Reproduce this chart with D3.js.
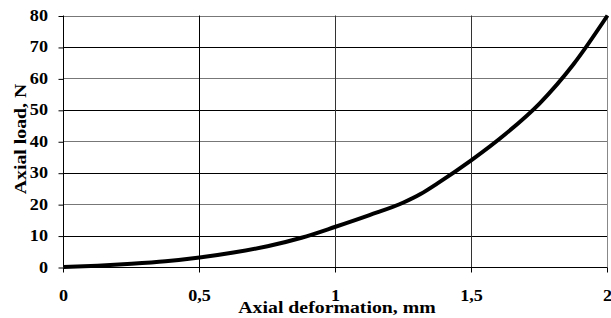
<!DOCTYPE html>
<html lang="en">
	<head>
		<meta charset="utf-8">
		<title>Axial load vs deformation</title>
		<script type="text/javascript" src="https://cdnjs.cloudflare.com/ajax/libs/d3/7.8.5/d3.min.js"></script>
		<style type="text/css">
			body { margin: 0; background: #fff; }
			text { font-family: "Liberation Serif", "Times New Roman", serif; font-weight: bold; fill: #000; }
		</style>
	</head>
	<body>
		<script type="text/javascript">

			//Size of the picture
			var w = 611;
			var h = 318;
			var margin = {left: 63.5, right: 3.5, top: 15.5, bottom: 51};

			//Data
			var deformation = [0, 0.125, 0.25, 0.375, 0.5, 0.625, 0.75, 0.875, 1.0, 1.125, 1.25, 1.3125, 1.375, 1.5, 1.625, 1.75, 1.875, 2.0];
			var load        = [0, 0.4,   1.0,  1.8,   3.0, 4.6,   6.6,  9.3,   12.8, 16.5, 20.5, 23.2,   26.6,  34.0, 42.3, 52.0, 64.5, 80.0];

			//Tick values and labels
			var xTicks = [0, 0.5, 1, 1.5, 2];
			var xTickLabels = ["0", "0,5", "1", "1,5", "2"];
			var yTicks = [0, 10, 20, 30, 40, 50, 60, 70, 80];

			var xTitle = "Axial deformation, mm";
			var yTitle = "Axial load, N";

			var fontSize = 16.5;
			var stretch = 1.1;       //tick labels in the reference are widened
			var titleStretch = 1.2;  //and the titles a bit more

			var svg = d3.select("body")
						.append("svg")
						.attr("width", w)
						.attr("height", h);

			var xScale = d3.scaleLinear()
						   .domain([0, 2])
						   .range([margin.left, w - margin.right]);

			var yScale = d3.scaleLinear()
						   .domain([0, 80])
						   .range([h - margin.bottom, margin.top]);

			//Horizontal grid lines
			svg.append("g")
			   .selectAll("line")
			   .data(yTicks.slice(1))
			   .enter()
			   .append("line")
			   .attr("x1", xScale(0))
			   .attr("x2", xScale(2))
			   .attr("y1", d => Math.round(yScale(d)) + 0.5)
			   .attr("y2", d => Math.round(yScale(d)) + 0.5)
			   .attr("stroke", (d, i) => i % 2 == 0 ? "#000" : "#777")
			   .attr("stroke-width", 1);

			//Vertical grid lines
			svg.append("g")
			   .selectAll("line")
			   .data(xTicks.slice(1))
			   .enter()
			   .append("line")
			   .attr("x1", d => Math.round(xScale(d)) - 0.5)
			   .attr("x2", d => Math.round(xScale(d)) - 0.5)
			   .attr("y1", yScale(0))
			   .attr("y2", yScale(80))
			   .attr("stroke", d => d == 2 ? "#888" : (d == 0.5 ? "#000" : "#333"))
			   .attr("stroke-width", 1);

			//Axes
			var xAxis = d3.axisBottom(xScale)
						  .tickValues(xTicks)
						  .tickSize(5)
						  .tickFormat("");

			var yAxis = d3.axisLeft(yScale)
						  .tickValues(yTicks)
						  .tickSize(5)
						  .tickFormat("");

			svg.append("g")
			   .attr("transform", `translate(0,${Math.round(yScale(0)) + 0.5})`)
			   .call(xAxis)
			   .call(g => g.select(".domain").attr("d", `M${xScale(0)},0H${xScale(2)}`))
			   .selectAll("line").attr("transform", "translate(-0.5,0)");

			svg.append("g")
			   .attr("transform", `translate(${xScale(0)},0)`)
			   .call(yAxis)
			   .call(g => g.select(".domain").attr("d", `M0,${yScale(0)}V${yScale(80)}`))
			   .selectAll(".tick line").attr("transform", "translate(0,0.5)");

			//Tick labels, drawn by hand so they can be widened
			svg.append("g")
			   .selectAll("text")
			   .data(yTicks)
			   .enter()
			   .append("text")
			   .attr("text-anchor", "end")
			   .attr("font-size", fontSize)
			   .attr("transform", d => `translate(48,${yScale(d) + 5.5}) scale(${stretch},1)`)
			   .text(d => d);

			svg.append("g")
			   .selectAll("text")
			   .data(xTicks)
			   .enter()
			   .append("text")
			   .attr("text-anchor", "middle")
			   .attr("font-size", fontSize)
			   .attr("transform", d => `translate(${xScale(d)},300.5) scale(${stretch},1)`)
			   .text((d, i) => xTickLabels[i]);

			//Axis titles
			svg.append("text")
			   .attr("text-anchor", "middle")
			   .attr("font-size", fontSize)
			   .attr("transform", `translate(337,312.5) scale(${titleStretch},1)`)
			   .text(xTitle);

			svg.append("text")
			   .attr("text-anchor", "middle")
			   .attr("font-size", fontSize)
			   .attr("transform", `translate(25.5,139) rotate(-90) scale(${titleStretch},1)`)
			   .text(yTitle);

			//The curve
			var line = d3.line()
						 .x((d, i) => xScale(deformation[i]))
						 .y(d => yScale(d))
						 .curve(d3.curveMonotoneX);

			svg.append("path")
			   .datum(load)
			   .attr("d", line)
			   .attr("fill", "none")
			   .attr("stroke", "#000")
			   .attr("stroke-width", 4)
			   .attr("stroke-linejoin", "round");

		</script>
	</body>
</html>
